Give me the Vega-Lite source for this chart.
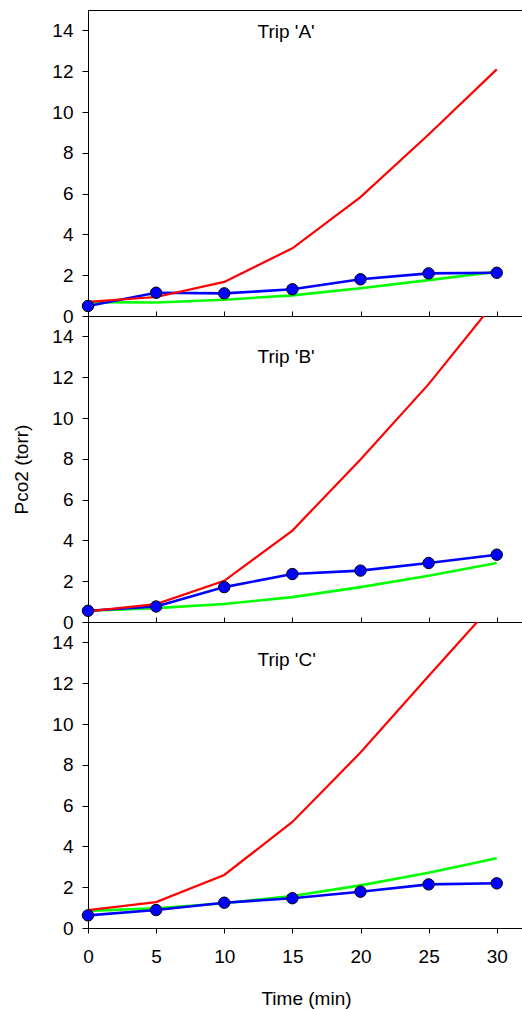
{
  "$schema": "https://vega.github.io/schema/vega-lite/v6.json",
  "padding": {"left": 12, "top": 9, "right": 0, "bottom": 5},
  "background": "white",
  "datasets": {
    "pco2": [
      {"trip": "A", "series": "measured", "t": 0, "p": 0.49},
      {"trip": "A", "series": "measured", "t": 5, "p": 1.14},
      {"trip": "A", "series": "measured", "t": 10, "p": 1.11},
      {"trip": "A", "series": "measured", "t": 15, "p": 1.31},
      {"trip": "A", "series": "measured", "t": 20, "p": 1.8},
      {"trip": "A", "series": "measured", "t": 25, "p": 2.09},
      {"trip": "A", "series": "measured", "t": 30, "p": 2.12},
      {"trip": "A", "series": "red", "t": 0, "p": 0.69},
      {"trip": "A", "series": "red", "t": 5, "p": 0.93},
      {"trip": "A", "series": "red", "t": 10, "p": 1.67},
      {"trip": "A", "series": "red", "t": 15, "p": 3.32},
      {"trip": "A", "series": "red", "t": 20, "p": 5.83},
      {"trip": "A", "series": "red", "t": 25, "p": 8.9},
      {"trip": "A", "series": "red", "t": 30, "p": 12.09},
      {"trip": "A", "series": "green", "t": 0, "p": 0.68},
      {"trip": "A", "series": "green", "t": 5, "p": 0.66},
      {"trip": "A", "series": "green", "t": 10, "p": 0.8},
      {"trip": "A", "series": "green", "t": 15, "p": 1.01},
      {"trip": "A", "series": "green", "t": 20, "p": 1.36},
      {"trip": "A", "series": "green", "t": 25, "p": 1.76},
      {"trip": "A", "series": "green", "t": 30, "p": 2.17},
      {"trip": "B", "series": "measured", "t": 0, "p": 0.55},
      {"trip": "B", "series": "measured", "t": 5, "p": 0.76},
      {"trip": "B", "series": "measured", "t": 10, "p": 1.71},
      {"trip": "B", "series": "measured", "t": 15, "p": 2.35},
      {"trip": "B", "series": "measured", "t": 20, "p": 2.52},
      {"trip": "B", "series": "measured", "t": 25, "p": 2.89},
      {"trip": "B", "series": "measured", "t": 30, "p": 3.3},
      {"trip": "B", "series": "red", "t": 0, "p": 0.52},
      {"trip": "B", "series": "red", "t": 5, "p": 0.88},
      {"trip": "B", "series": "red", "t": 10, "p": 2.02},
      {"trip": "B", "series": "red", "t": 15, "p": 4.48},
      {"trip": "B", "series": "red", "t": 20, "p": 7.97},
      {"trip": "B", "series": "red", "t": 25, "p": 11.66},
      {"trip": "B", "series": "red", "t": 30, "p": 15.8},
      {"trip": "B", "series": "green", "t": 0, "p": 0.55},
      {"trip": "B", "series": "green", "t": 5, "p": 0.68},
      {"trip": "B", "series": "green", "t": 10, "p": 0.88},
      {"trip": "B", "series": "green", "t": 15, "p": 1.22},
      {"trip": "B", "series": "green", "t": 20, "p": 1.71},
      {"trip": "B", "series": "green", "t": 25, "p": 2.27},
      {"trip": "B", "series": "green", "t": 30, "p": 2.89},
      {"trip": "C", "series": "measured", "t": 0, "p": 0.62},
      {"trip": "C", "series": "measured", "t": 5, "p": 0.88},
      {"trip": "C", "series": "measured", "t": 10, "p": 1.24},
      {"trip": "C", "series": "measured", "t": 15, "p": 1.46},
      {"trip": "C", "series": "measured", "t": 20, "p": 1.78},
      {"trip": "C", "series": "measured", "t": 25, "p": 2.14},
      {"trip": "C", "series": "measured", "t": 30, "p": 2.19},
      {"trip": "C", "series": "red", "t": 0, "p": 0.88},
      {"trip": "C", "series": "red", "t": 5, "p": 1.27},
      {"trip": "C", "series": "red", "t": 10, "p": 2.6},
      {"trip": "C", "series": "red", "t": 15, "p": 5.2},
      {"trip": "C", "series": "red", "t": 20, "p": 8.6},
      {"trip": "C", "series": "red", "t": 25, "p": 12.35},
      {"trip": "C", "series": "red", "t": 30, "p": 16.07},
      {"trip": "C", "series": "green", "t": 0, "p": 0.84},
      {"trip": "C", "series": "green", "t": 5, "p": 0.97},
      {"trip": "C", "series": "green", "t": 10, "p": 1.21},
      {"trip": "C", "series": "green", "t": 15, "p": 1.57},
      {"trip": "C", "series": "green", "t": 20, "p": 2.09},
      {"trip": "C", "series": "green", "t": 25, "p": 2.71},
      {"trip": "C", "series": "green", "t": 30, "p": 3.42}
    ]
  },
  "bounds": "flush",
  "spacing": 0,
  "vconcat": [
    {
      "width": 436,
      "height": 306,
      "layer": [
        {"data": {"name": "pco2"}, "transform": [{"filter": "datum.trip == 'A' && datum.series == 'green'"}], "mark": {"type": "line", "color": "#00ff00", "strokeWidth": 2.6, "clip": true},
         "encoding": {
           "x": {"field": "t", "type": "quantitative", "scale": {"domain": [0, 32], "nice": false},
                 "axis": {"values": [0, 5, 10, 15, 20, 25, 30], "labels": false, "tickSize": -5, "title": null}},
           "y": {"field": "p", "type": "quantitative", "scale": {"domain": [0, 15], "nice": false},
                 "axis": {"values": [0, 2, 4, 6, 8, 10, 12, 14], "title": null}}}},
        {"data": {"name": "pco2"}, "transform": [{"filter": "datum.trip == 'A' && datum.series == 'measured'"}], "mark": {"type": "line", "color": "#0000ff", "strokeWidth": 2.6, "clip": true},
         "encoding": {"x": {"field": "t", "type": "quantitative"}, "y": {"field": "p", "type": "quantitative"}}},
        {"data": {"name": "pco2"}, "transform": [{"filter": "datum.trip == 'A' && datum.series == 'red'"}], "mark": {"type": "line", "color": "#ff0000", "strokeWidth": 2.2, "clip": true},
         "encoding": {"x": {"field": "t", "type": "quantitative"}, "y": {"field": "p", "type": "quantitative"}}},
        {"data": {"name": "pco2"}, "transform": [{"filter": "datum.trip == 'A' && datum.series == 'measured'"}], "mark": {"type": "point", "shape": "circle", "filled": true, "fill": "#0000ff", "stroke": "black", "strokeWidth": 1, "size": 130, "opacity": 1},
         "encoding": {"x": {"field": "t", "type": "quantitative"}, "y": {"field": "p", "type": "quantitative"}}},
        {"data": {"values": [{"label": "Trip 'A'"}]},
         "mark": {"type": "text", "align": "left", "baseline": "alphabetic", "fontSize": 19, "fill": "black"},
         "encoding": {"x": {"datum": 12.44, "type": "quantitative"}, "y": {"datum": 13.63, "type": "quantitative"}, "text": {"field": "label", "type": "nominal"}}}
      ]
    },
    {
      "width": 436,
      "height": 306,
      "layer": [
        {"data": {"name": "pco2"}, "transform": [{"filter": "datum.trip == 'B' && datum.series == 'green'"}], "mark": {"type": "line", "color": "#00ff00", "strokeWidth": 2.6, "clip": true},
         "encoding": {
           "x": {"field": "t", "type": "quantitative", "scale": {"domain": [0, 32], "nice": false},
                 "axis": {"values": [0, 5, 10, 15, 20, 25, 30], "labels": false, "tickSize": -5, "title": null}},
           "y": {"field": "p", "type": "quantitative", "scale": {"domain": [0, 15], "nice": false},
                 "axis": {"values": [0, 2, 4, 6, 8, 10, 12, 14], "title": "Pco2 (torr)", "titlePadding": 20}}}},
        {"data": {"name": "pco2"}, "transform": [{"filter": "datum.trip == 'B' && datum.series == 'measured'"}], "mark": {"type": "line", "color": "#0000ff", "strokeWidth": 2.6, "clip": true},
         "encoding": {"x": {"field": "t", "type": "quantitative"}, "y": {"field": "p", "type": "quantitative"}}},
        {"data": {"name": "pco2"}, "transform": [{"filter": "datum.trip == 'B' && datum.series == 'red'"}], "mark": {"type": "line", "color": "#ff0000", "strokeWidth": 2.2, "clip": true},
         "encoding": {"x": {"field": "t", "type": "quantitative"}, "y": {"field": "p", "type": "quantitative"}}},
        {"data": {"name": "pco2"}, "transform": [{"filter": "datum.trip == 'B' && datum.series == 'measured'"}], "mark": {"type": "point", "shape": "circle", "filled": true, "fill": "#0000ff", "stroke": "black", "strokeWidth": 1, "size": 130, "opacity": 1},
         "encoding": {"x": {"field": "t", "type": "quantitative"}, "y": {"field": "p", "type": "quantitative"}}},
        {"data": {"values": [{"label": "Trip 'B'"}]},
         "mark": {"type": "text", "align": "left", "baseline": "alphabetic", "fontSize": 19, "fill": "black"},
         "encoding": {"x": {"datum": 12.44, "type": "quantitative"}, "y": {"datum": 12.72, "type": "quantitative"}, "text": {"field": "label", "type": "nominal"}}}
      ]
    },
    {
      "width": 436,
      "height": 306,
      "layer": [
        {"data": {"name": "pco2"}, "transform": [{"filter": "datum.trip == 'C' && datum.series == 'green'"}], "mark": {"type": "line", "color": "#00ff00", "strokeWidth": 2.6, "clip": true},
         "encoding": {
           "x": {"field": "t", "type": "quantitative", "scale": {"domain": [0, 32], "nice": false},
                 "axis": {"values": [0, 5, 10, 15, 20, 25, 30], "tickSize": 5, "labelPadding": 14, "labelFlush": false, "title": "Time (min)", "titlePadding": 23}},
           "y": {"field": "p", "type": "quantitative", "scale": {"domain": [0, 15], "nice": false},
                 "axis": {"values": [0, 2, 4, 6, 8, 10, 12, 14], "title": null}}}},
        {"data": {"name": "pco2"}, "transform": [{"filter": "datum.trip == 'C' && datum.series == 'measured'"}], "mark": {"type": "line", "color": "#0000ff", "strokeWidth": 2.6, "clip": true},
         "encoding": {"x": {"field": "t", "type": "quantitative"}, "y": {"field": "p", "type": "quantitative"}}},
        {"data": {"name": "pco2"}, "transform": [{"filter": "datum.trip == 'C' && datum.series == 'red'"}], "mark": {"type": "line", "color": "#ff0000", "strokeWidth": 2.2, "clip": true},
         "encoding": {"x": {"field": "t", "type": "quantitative"}, "y": {"field": "p", "type": "quantitative"}}},
        {"data": {"name": "pco2"}, "transform": [{"filter": "datum.trip == 'C' && datum.series == 'measured'"}], "mark": {"type": "point", "shape": "circle", "filled": true, "fill": "#0000ff", "stroke": "black", "strokeWidth": 1, "size": 130, "opacity": 1},
         "encoding": {"x": {"field": "t", "type": "quantitative"}, "y": {"field": "p", "type": "quantitative"}}},
        {"data": {"values": [{"label": "Trip 'C'"}]},
         "mark": {"type": "text", "align": "left", "baseline": "alphabetic", "fontSize": 19, "fill": "black"},
         "encoding": {"x": {"datum": 12.44, "type": "quantitative"}, "y": {"datum": 12.84, "type": "quantitative"}, "text": {"field": "label", "type": "nominal"}}}
      ]
    }
  ],
  "config": {
    "font": "Liberation Sans",
    "view": {"stroke": "black", "strokeWidth": 1},
    "axis": {
      "grid": false,
      "domainColor": "black",
      "tickColor": "black",
      "labelColor": "black",
      "titleColor": "black",
      "labelFont": "Liberation Sans",
      "titleFont": "Liberation Sans",
      "labelFontSize": 19,
      "titleFontSize": 19,
      "titleFontWeight": "normal",
      "tickSize": 6,
      "labelPadding": 9,
      "labelFlush": false
    }
  }
}
